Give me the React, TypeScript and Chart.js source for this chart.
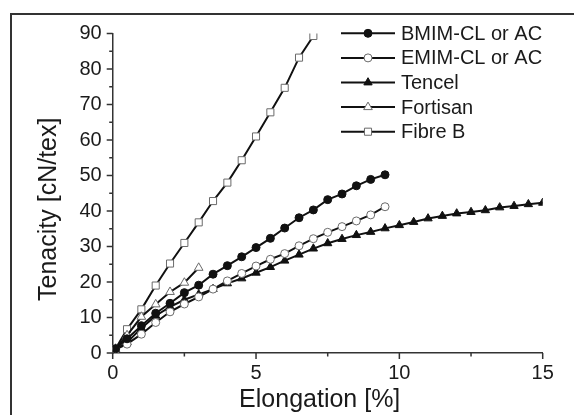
import React, { useEffect, useRef } from 'react';
import { Chart, registerables } from 'chart.js';

Chart.register(...registerables);

const FONT = '"Liberation Sans", Arial, Helvetica, sans-serif';

// ---- data ----
const seriesLabels = ['BMIM-CL or AC', 'EMIM-CL or AC', 'Tencel', 'Fortisan', 'Fibre B'];

const bmimX = [0.1, 0.5, 1, 1.5, 2, 2.5, 3, 3.5, 4, 4.5, 5, 5.5, 6, 6.5, 7, 7.5, 8, 8.5, 9, 9.5];
const bmimY = [1.2, 4.0, 7.7, 11.2, 14.0, 17.0, 19.1, 22.2, 24.6, 27.1, 29.7, 32.3, 35.2, 38.1, 40.3, 43.2, 44.8, 47.1, 48.9, 50.2];

const emimX = [0.1, 0.5, 1, 1.5, 2, 2.5, 3, 3.5, 4, 4.5, 5, 5.5, 6, 6.5, 7, 7.5, 8, 8.5, 9, 9.5];
const emimY = [1.0, 2.5, 5.3, 8.6, 11.6, 13.8, 15.8, 18.0, 20.3, 22.4, 24.5, 26.4, 28.0, 30.2, 32.2, 34.0, 35.6, 37.2, 38.9, 41.2];

const tencelX = [0.1, 0.5, 1, 1.5, 2, 2.5, 3, 3.5, 4, 4.5, 5, 5.5, 6, 6.5, 7, 7.5, 8, 8.5, 9, 9.5, 10, 10.5, 11, 11.5, 12, 12.5, 13, 13.5, 14, 14.5, 15];
const tencelY = [1.0, 3.0, 7.0, 10.5, 13.0, 15.0, 16.5, 18.0, 19.6, 21.0, 22.6, 24.2, 26.0, 27.7, 29.4, 30.9, 32.1, 33.2, 34.1, 35.1, 36.0, 36.9, 37.9, 38.6, 39.3, 39.7, 40.2, 41.0, 41.4, 41.9, 42.3];

const fortisanX = [0.1, 0.5, 1, 1.5, 2, 2.5, 3];
const fortisanY = [1.2, 5.0, 10.2, 13.7, 17.2, 19.8, 24.0];

const fibreBX = [0.1, 0.5, 1, 1.5, 2, 2.5, 3, 3.5, 4, 4.5, 5, 5.5, 6, 6.5, 7];
const fibreBY = [1.2, 6.7, 12.3, 19.0, 25.2, 31.0, 36.8, 42.8, 48.0, 54.3, 61.0, 67.8, 74.7, 83.2, 89.3];

const xMajorTicks = [0, 5, 10, 15];
const xMinorTicks = [2.5, 7.5, 12.5];
const yMajorTicks = [0, 10, 20, 30, 40, 50, 60, 70, 80, 90];
const yMinorTicks = [5, 15, 25, 35, 45, 55, 65, 75, 85];

const xTitle = 'Elongation [%]';
const yTitle = 'Tenacity [cN/tex]';

function toPoints(xs: number[], ys: number[]) {
  return xs.map((x, i) => ({ x, y: ys[i] }));
}

const LINE = '#111111';
const OPEN_STROKE = '#6a6a6a';

type Marker = { style: string; radius: number; fill: string; stroke: string };
const markers: Marker[] = [
  { style: 'circle', radius: 4, fill: '#111111', stroke: '#111111' },
  { style: 'circle', radius: 4, fill: '#ffffff', stroke: OPEN_STROKE },
  { style: 'triangle', radius: 4.8, fill: '#111111', stroke: '#111111' },
  { style: 'triangle', radius: 5, fill: '#ffffff', stroke: OPEN_STROKE },
  { style: 'rect', radius: 5, fill: '#ffffff', stroke: OPEN_STROKE },
];

function drawMarker(ctx: CanvasRenderingContext2D, m: Marker, x: number, y: number) {
  ctx.save();
  ctx.fillStyle = m.fill;
  ctx.strokeStyle = m.stroke;
  ctx.lineWidth = 1;
  ctx.beginPath();
  const r = m.radius;
  if (m.style === 'circle') {
    ctx.arc(x, y, r, 0, Math.PI * 2);
  } else if (m.style === 'triangle') {
    let rad = 0;
    ctx.moveTo(x + Math.sin(rad) * r, y - Math.cos(rad) * r);
    rad += (2 * Math.PI) / 3;
    ctx.lineTo(x + Math.sin(rad) * r, y - Math.cos(rad) * r);
    rad += (2 * Math.PI) / 3;
    ctx.lineTo(x + Math.sin(rad) * r, y - Math.cos(rad) * r);
    ctx.closePath();
  } else {
    const s = r / Math.SQRT2;
    ctx.rect(x - s, y - s, 2 * s, 2 * s);
  }
  ctx.fill();
  ctx.stroke();
  ctx.restore();
}

const decorPlugin = {
  id: 'decor',
  beforeDraw(chart: any) {
    const ctx = chart.ctx as CanvasRenderingContext2D;
    ctx.save();
    ctx.strokeStyle = '#333333';
    ctx.lineWidth = 2;
    ctx.beginPath();
    ctx.moveTo(11, 415);
    ctx.lineTo(11, 14);
    ctx.lineTo(574, 14);
    ctx.stroke();
    ctx.restore();
  },
  afterDraw(chart: any) {
    const ctx = chart.ctx as CanvasRenderingContext2D;
    const xs = chart.scales.x;
    const ys = chart.scales.y;
    const { left, bottom, right, top } = chart.chartArea;
    ctx.save();
    ctx.strokeStyle = '#333333';
    ctx.lineWidth = 1.5;
    ctx.beginPath();
    xMajorTicks.forEach((v) => {
      const p = xs.getPixelForValue(v);
      ctx.moveTo(p, bottom);
      ctx.lineTo(p, bottom + 6);
    });
    xMinorTicks.forEach((v) => {
      const p = xs.getPixelForValue(v);
      ctx.moveTo(p, bottom);
      ctx.lineTo(p, bottom + 3.5);
    });
    yMajorTicks.forEach((v) => {
      const p = ys.getPixelForValue(v);
      ctx.moveTo(left, p);
      ctx.lineTo(left - 6, p);
    });
    yMinorTicks.forEach((v) => {
      const p = ys.getPixelForValue(v);
      ctx.moveTo(left, p);
      ctx.lineTo(left - 3.5, p);
    });
    ctx.stroke();

    // axis titles
    ctx.fillStyle = '#1a1a1a';
    ctx.font = `25px ${FONT}`;
    ctx.textAlign = 'center';
    ctx.textBaseline = 'alphabetic';
    ctx.fillText(xTitle, (left + right) / 2 - 8, 406.5);
    ctx.save();
    ctx.translate(56, (top + bottom) / 2 + 16);
    ctx.rotate(-Math.PI / 2);
    ctx.fillText(yTitle, 0, 0);
    ctx.restore();

    // legend
    ctx.font = `20px ${FONT}`;
    ctx.textAlign = 'left';
    ctx.textBaseline = 'middle';
    chart.data.datasets.forEach((ds: any, i: number) => {
      const y = 33.3 + i * 24.6;
      ctx.strokeStyle = LINE;
      ctx.lineWidth = 2;
      ctx.beginPath();
      ctx.moveTo(341, y);
      ctx.lineTo(395, y);
      ctx.stroke();
      drawMarker(ctx, markers[i], 368, y);
      ctx.fillStyle = '#1a1a1a';
      ctx.fillText(ds.label, 401, y + 1);
    });
    ctx.restore();
  },
};

export default function App() {
  const ref = useRef<HTMLCanvasElement | null>(null);
  useEffect(() => {
    if (!ref.current) return;
    const all = [
      toPoints(bmimX, bmimY),
      toPoints(emimX, emimY),
      toPoints(tencelX, tencelY),
      toPoints(fortisanX, fortisanY),
      toPoints(fibreBX, fibreBY),
    ];
    const datasets = all.map((data, i) => ({
      label: seriesLabels[i],
      data,
      borderColor: LINE,
      borderWidth: 2,
      backgroundColor: markers[i].fill,
      pointStyle: markers[i].style,
      pointRadius: markers[i].radius,
      pointBackgroundColor: markers[i].fill,
      pointBorderColor: markers[i].stroke,
      pointBorderWidth: 1,
      tension: 0,
      fill: false,
    }));
    const chart = new Chart(ref.current, {
      type: 'line',
      data: { datasets },
      plugins: [decorPlugin],
      options: {
        responsive: false,
        animation: false,
        devicePixelRatio: 1,
        layout: { padding: { left: 0, top: 33.5, right: 31.3, bottom: 0 } },
        plugins: { legend: { display: false }, tooltip: { enabled: false } },
        scales: {
          x: {
            type: 'linear',
            min: 0,
            max: 15,
            afterFit: (s: any) => {
              s.height = 62;
            },
            ticks: { stepSize: 5, color: '#1a1a1a', padding: 8, font: { family: FONT, size: 20 } },
            grid: { display: true, drawOnChartArea: false, drawTicks: false },
            border: { display: true, color: '#333333', width: 1.5 },
          },
          y: {
            type: 'linear',
            min: 0,
            max: 90,
            afterFit: (s: any) => {
              s.width = 112.7;
            },
            ticks: { stepSize: 10, color: '#1a1a1a', padding: 11, font: { family: FONT, size: 20 } },
            grid: { display: true, drawOnChartArea: false, drawTicks: false },
            border: { display: true, color: '#333333', width: 1.5 },
          },
        },
      },
    });
    return () => chart.destroy();
  }, []);
  return (
    <div style={{ position: 'fixed', left: 0, top: 0, width: 574, height: 415, background: '#fff' }}>
      <canvas ref={ref} width={574} height={415} style={{ display: 'block' }} />
    </div>
  );
}
